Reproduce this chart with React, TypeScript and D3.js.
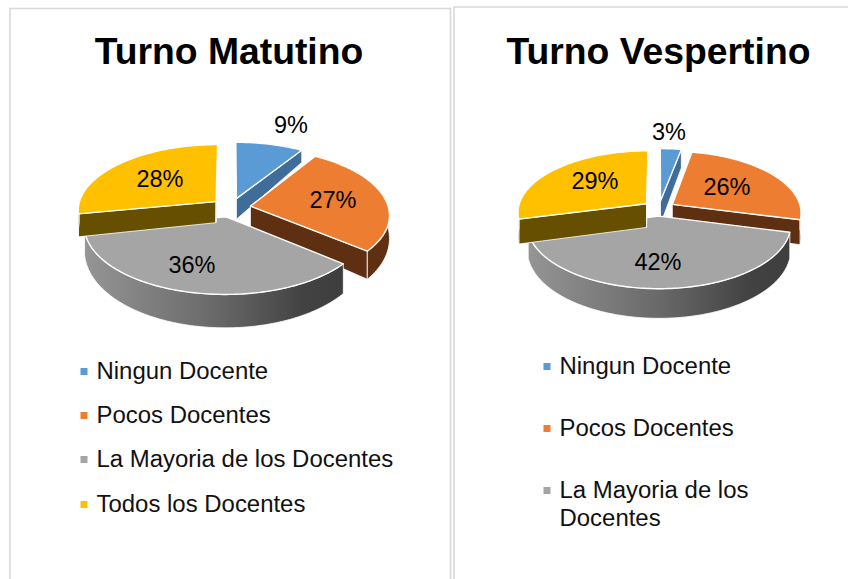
import React from "react";
import * as d3 from "d3";

const categories = ["Ningun Docente", "Pocos Docentes", "La Mayoria de los Docentes", "Todos los Docentes"];
const matutinoValues = [9, 27, 36, 28];
const vespertinoValues = [3, 26, 42, 29];
const topColors = ["#5b9bd5", "#ed7d31", "#a5a5a5", "#ffc000"];
const wallColors = ["#3f6c99", "#5f2f12", "", "#665000"];

type Geometry = {
  id: string; cx: number; cy: number; rx: number; ry: number; k: number;
  explode: number; h0: number; h1: number; labels: [number, number][];
};

const geoLeft: Geometry = {
  id: "m", cx: 231, cy: 207.5, rx: 138, ry: 65.5, k: 0.125, explode: 0.143, h0: 22, h1: 10,
  labels: [[291, 125], [333, 200], [192, 265], [160, 179]],
};
const geoRight: Geometry = {
  id: "v", cx: 659, cy: 208.4, rx: 128.5, ry: 61, k: 0.13, explode: 0.124, h0: 24, h1: 5,
  labels: [[669, 132], [727, 187], [658, 262], [595, 181]],
};

const FONT = "'Liberation Sans', Arial, sans-serif";
const line = d3.line<[number, number]>().curve(d3.curveLinear);

function Pie({ values, g }: { values: number[]; g: Geometry }) {
  const arcs = d3.pie<number>().sort(null).startAngle(0).endAngle(2 * Math.PI)(values);
  const total = d3.sum(values);

  const slices = arcs.map((a, i) => {
    const mid = (a.startAngle + a.endAngle) / 2;
    const ox = Math.sin(mid) * g.explode;
    const oy = Math.cos(mid) * g.explode;
    const proj = (theta: number, r: number, dropped: boolean): [number, number] => {
      const u = ox + r * Math.sin(theta);
      const v = oy + r * Math.cos(theta);
      const s = 1 / (1 + g.k * v);
      const drop = dropped ? g.h0 - g.h1 * v : 0;
      return [g.cx + g.rx * u * s, g.cy - g.ry * v * s + drop];
    };
    const n = Math.max(2, Math.ceil((a.endAngle - a.startAngle) / 0.02));
    const thetas = d3.range(n + 1).map((j) => a.startAngle + ((a.endAngle - a.startAngle) * j) / n);
    const top = line([proj(0, 0, false), ...thetas.map((t) => proj(t, 1, false))]) + "Z";

    const radial = (t: number) =>
      line([proj(t, 0, false), proj(t, 1, false), proj(t, 1, true), proj(t, 0, true)]) + "Z";
    const front = thetas.filter((t) => t >= Math.PI / 2 && t <= (3 * Math.PI) / 2);
    const outer =
      front.length > 1
        ? line([...front.map((t) => proj(t, 1, false)), ...[...front].reverse().map((t) => proj(t, 1, true))]) + "Z"
        : null;
    const xs = front.map((t) => proj(t, 1, false)[0]);
    return {
      i, top, outer,
      radials: [radial(a.startAngle), radial(a.endAngle)],
      x0: d3.min(xs) ?? 0, x1: d3.max(xs) ?? 0,
    };
  });

  const gid = `wall-${g.id}`;
  return (
    <g>
      {slices.map((s) => {
        const isGradient = !wallColors[s.i];
        const wall = isGradient ? `url(#${gid})` : wallColors[s.i];
        return (
          <g key={s.i}>
            {isGradient && (
              <defs>
                <linearGradient id={gid} gradientUnits="userSpaceOnUse" x1={s.x0} x2={s.x1} y1={0} y2={0}>
                  <stop offset="0" stopColor="#959595" />
                  <stop offset="0.5" stopColor="#696969" />
                  <stop offset="0.85" stopColor="#424242" />
                  <stop offset="1" stopColor="#3e3e3e" />
                </linearGradient>
              </defs>
            )}
            {!isGradient && s.radials.map((d, j) => <path key={j} d={d} fill={wall} stroke="#fff" strokeWidth={0.8} />)}
            {s.outer && <path d={s.outer} fill={wall} stroke="#fff" strokeWidth={0.8} />}
            <path d={s.top} fill={topColors[s.i]} stroke="#fff" strokeWidth={1.4} strokeLinejoin="round" />
          </g>
        );
      })}
      {values.map((v, i) => (
        <text key={i} x={g.labels[i][0]} y={g.labels[i][1]} textAnchor="middle" dominantBaseline="central"
          fontFamily={FONT} fontSize={23.5} fill="#000">
          {`${Math.round((v / total) * 100)}%`}
        </text>
      ))}
    </g>
  );
}

function LegendRow({ x, y, index, lines }: { x: number; y: number; index: number; lines: string[] }) {
  return (
    <g>
      <rect x={x - 16} y={y - 3} width={7} height={7} fill={topColors[index]} />
      <text x={x} y={y - 1} fontFamily={FONT} fontSize={23.95} fill="#111" dominantBaseline="central">
        {lines.map((l, j) => (
          <tspan key={j} x={x} dy={j === 0 ? 0 : 28}>{l}</tspan>
        ))}
      </text>
    </g>
  );
}

export default function App() {
  const leftRows = [371, 415, 459, 504];
  return (
    <svg width={848} height={579} style={{ position: "absolute", left: 0, top: 0, background: "#fff" }}>
      <path d="M10 579V8.5H450.5V579" fill="none" stroke="#d9d9d9" strokeWidth={1.6} />
      <path d="M454 579V7H848" fill="none" stroke="#d9d9d9" strokeWidth={1.6} />
      <text x={229} y={64} textAnchor="middle" fontFamily={FONT} fontWeight={700} fontSize={37.3} fill="#000">Turno Matutino</text>
      <text x={658.5} y={63.5} textAnchor="middle" fontFamily={FONT} fontWeight={700} fontSize={37.3} fill="#000">Turno Vespertino</text>
      <Pie values={matutinoValues} g={geoLeft} />
      <Pie values={vespertinoValues} g={geoRight} />
      {categories.map((c, i) => (
        <LegendRow key={c} x={96.5} y={leftRows[i]} index={i} lines={[c]} />
      ))}
      <LegendRow x={559.5} y={366} index={0} lines={[categories[0]]} />
      <LegendRow x={559.5} y={428} index={1} lines={[categories[1]]} />
      <LegendRow x={559.5} y={490} index={2} lines={["La Mayoria de los", "Docentes"]} />
    </svg>
  );
}
